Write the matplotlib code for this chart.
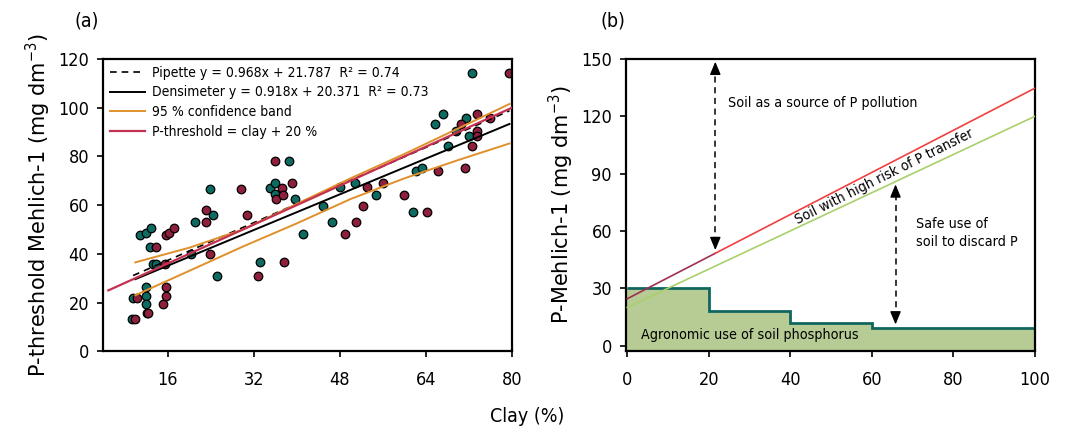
import matplotlib.pyplot as plt

# ---- panel (a) data ----
teal_x = [9.3, 9.6, 10.9, 12.0, 11.9, 11.9, 11.9, 12.1, 12.9, 12.8, 13.3, 13.8, 20.3, 21.1, 23.9, 24.5, 25.1,
          33.2, 35.1, 36.0, 36.0, 38.5, 39.7, 41.1, 44.9, 46.5, 48.1, 50.8, 54.7, 61.6, 62.1, 63.3,
          65.7, 67.2, 68.1, 69.6, 71.5, 72.0, 72.6]
teal_y = [13.3, 22.0, 47.8, 48.5, 26.3, 22.9, 19.3, 15.6, 50.5, 42.7, 35.7, 35.7, 40.0, 53.1, 66.6, 55.9, 31.1,
          36.7, 67.0, 69.0, 64.4, 78.1, 62.7, 48.3, 59.8, 53.1, 67.4, 69.2, 64.0, 57.3, 74.0, 75.1,
          93.3, 97.5, 84.1, 90.5, 95.6, 88.4, 114.3]
crim_x = [10.0, 10.4, 12.3, 13.8, 15.1, 15.7, 16.3, 15.7, 15.8, 15.6, 17.2, 23.1, 23.2, 23.8, 29.7, 30.7,
          32.8, 35.9, 36.2, 37.3, 37.4, 37.7, 39.2, 49.0, 51.0, 52.3, 53.1, 56.0, 59.9, 64.1, 66.3,
          70.5, 71.2, 72.6, 73.5, 73.5, 73.5, 75.9, 79.5]
crim_y = [13.3, 22.0, 15.6, 42.7, 19.3, 47.8, 48.5, 22.9, 26.3, 35.7, 50.5, 58.1, 53.1, 39.9, 66.6, 55.9,
          31.1, 78.1, 62.7, 67.0, 64.0, 36.7, 69.0, 48.3, 53.1, 59.8, 67.4, 69.2, 64.0, 57.3, 74.0,
          93.3, 75.1, 84.1, 97.5, 90.5, 88.4, 95.6, 114.3]

pipette_x = [9.6, 79.5]
pipette_y = [31.1, 98.7]
dens_x = [10.0, 79.5]
dens_y = [29.6, 93.3]
pthr_x = [5.0, 80.0]
pthr_y = [25.0, 100.0]
band_x = [10, 20, 30, 40, 50, 60, 70, 79.5]
band_up = [36.5, 42.5, 50.0, 60.5, 71.0, 81.0, 91.5, 101.5]
band_lo = [23.0, 33.0, 43.0, 52.5, 62.5, 71.0, 78.5, 85.3]

# ---- panel (b) data ----
red_x1 = [0, 21.6]
red_y1 = [24.5, 48.3]
red_x2 = [21.6, 100]
red_y2 = [48.3, 134.7]
green_x = [0, 100]
green_y = [20, 120]
step_edges = [0, 20, 40, 60, 100]
step_vals = [30, 18, 12, 9]

plt.rcParams['font.family'] = 'DejaVu Sans'
plt.rcParams['font.stretch'] = 'condensed'
plt.rcParams['xtick.major.pad'] = 10
plt.rcParams['ytick.major.pad'] = 6

fig = plt.figure(figsize=(10.67, 4.3), dpi=100)
ax1 = fig.add_axes([0.0965, 0.183, 0.3835, 0.68])
ax2 = fig.add_axes([0.5867, 0.183, 0.3833, 0.68])

for ax in (ax1, ax2):
    for s in ax.spines.values():
        s.set_linewidth(1.6)
    ax.tick_params(direction='out', length=4, width=1.2, labelsize=13)

# panel (a)
ax1.scatter(teal_x, teal_y, s=38, c='#0e6b62', edgecolors='black', linewidths=0.9, zorder=2)
ax1.scatter(crim_x, crim_y, s=38, c='#8e1f3d', edgecolors='black', linewidths=0.9, zorder=2)
ax1.plot(pipette_x, pipette_y, color='black', ls='--', lw=1.2, dashes=(4, 3),
         label='Pipette y = 0.968x + 21.787  R² = 0.74', zorder=3)
ax1.plot(dens_x, dens_y, color='black', lw=1.4,
         label='Densimeter y = 0.918x + 20.371  R² = 0.73', zorder=3)
ax1.plot(band_x, band_up, color='#e0902a', lw=1.4, label='95 % confidence band', zorder=3)
ax1.plot(band_x, band_lo, color='#e0902a', lw=1.4, zorder=3)
ax1.plot(pthr_x, pthr_y, color='#c43050', lw=1.6, label='P-threshold = clay + 20 %', zorder=3)
ax1.set_xlim(4, 80)
ax1.set_ylim(0, 120)
ax1.set_xticks([16, 32, 48, 64, 80])
ax1.set_yticks([0, 20, 40, 60, 80, 100, 120])
ax1.set_ylabel('P-threshold Mehlich-1 (mg dm$^{-3}$)', fontsize=15, fontstretch='normal')
ax1.legend(loc='upper left', frameon=False, prop={'size': 10, 'stretch': 'condensed'},
           handlelength=2.5, labelspacing=0.4, borderaxespad=0.1, handletextpad=0.5)

# panel (b)
ax2.stairs(step_vals, step_edges, baseline=-3, fill=True, color='#b6cc94', zorder=1)
ax2.stairs(step_vals, step_edges, baseline=None, color='#10665f', lw=2, zorder=2)
ax2.plot(green_x, green_y, color='#a9d06a', lw=1.2, zorder=3)
ax2.plot(red_x1, red_y1, color='#9e3050', lw=1.2, zorder=3)
ax2.plot(red_x2, red_y2, color='#f04040', lw=1.2, zorder=3)

for x, y0, y1 in [(21.6, 48.5, 150), (65.8, 9.6, 85.8)]:
    ax2.plot([x, x], [y0 + 5, y1 - 5], color='black', ls='--', lw=1.1, dashes=(4, 3), zorder=4)
    ax2.annotate('', xy=(x, y1), xytext=(x, y1 - 8),
                 arrowprops=dict(arrowstyle='-|>,head_length=0.6,head_width=0.25', color='black',
                                 lw=1, mutation_scale=13), zorder=4)
    ax2.annotate('', xy=(x, y0), xytext=(x, y0 + 8),
                 arrowprops=dict(arrowstyle='-|>,head_length=0.6,head_width=0.25', color='black',
                                 lw=1, mutation_scale=13), zorder=4)

ax2.text(24.8, 127, 'Soil as a source of P pollution', fontsize=10.3, va='center', ha='left')
ax2.text(63, 88.5, 'Soil with high risk of P transfer', fontsize=10.3, rotation=26.5,
         ha='center', va='center', rotation_mode='anchor')
ax2.text(70.8, 59, 'Safe use of\nsoil to discard P', fontsize=10.3, va='center', ha='left', linespacing=1.35)
ax2.text(3.3, 5.6, 'Agronomic use of soil phosphorus', fontsize=10.3, va='center', ha='left')

ax2.set_xlim(-0.3, 100)
ax2.set_ylim(-3, 150)
ax2.set_xticks([0, 20, 40, 60, 80, 100])
ax2.set_yticks([0, 30, 60, 90, 120, 150])
ax2.set_ylabel('P-Mehlich-1 (mg dm$^{-3}$)', fontsize=15, fontstretch='normal')

fig.text(0.0815, 0.951, '(a)', fontsize=14, ha='center', va='center')
fig.text(0.574, 0.951, '(b)', fontsize=14, ha='center', va='center')
fig.text(0.494, 0.031, 'Clay (%)', fontsize=14, ha='center', va='center')

fig.savefig('out.png', dpi=100)
